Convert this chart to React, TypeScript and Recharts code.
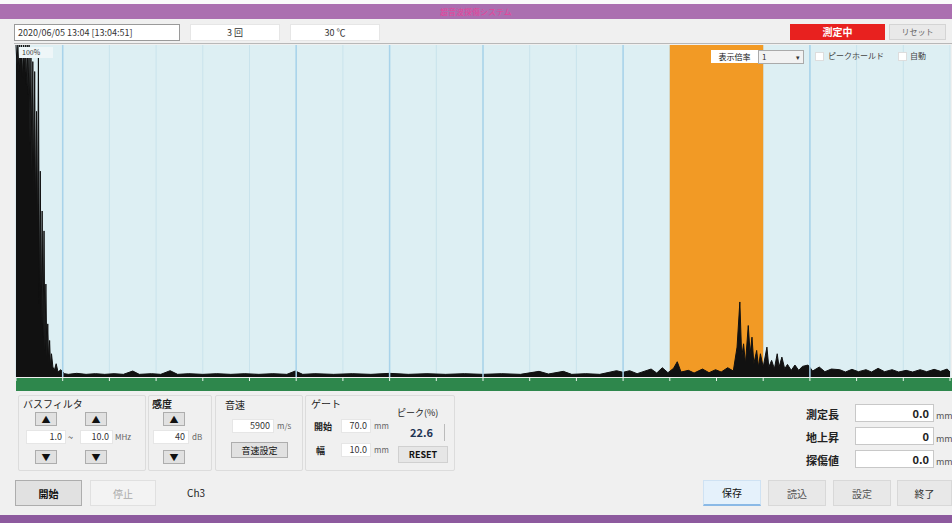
import { ComposedChart, Area, XAxis, YAxis, CartesianGrid, ReferenceArea, ReferenceLine } from 'recharts'

// A-scan: depth (mm) vs echo height (% FSH)
const DEPTH_MM = [
  0, 0.1, 0.2, 0.3, 0.4, 0.5, 0.6, 0.7, 0.8, 0.9, 1.0, 1.1, 1.2, 1.3, 1.4, 1.5, 1.6, 1.7, 1.8, 1.9,
  2.0, 2.1, 2.2, 2.3, 2.4, 2.5, 2.6, 2.7, 2.8, 2.9, 3.0, 3.1, 3.2, 3.3, 3.4, 3.5, 3.6, 3.7, 3.8, 3.95,
  4.1, 4.3, 4.5, 4.8, 5.2, 5.6, 6.5, 7.5, 8.5, 9.5, 10.5, 11.5, 12.5, 13.2, 14.5, 15.5, 16.5, 17.3,
  18.5, 20, 21.5, 23, 24.5, 26, 27.5, 29, 29.9, 30.7, 32, 34, 36, 38, 40, 42, 44, 46, 48, 50, 52, 54,
  56, 57, 58.6, 59.5, 61, 62.5, 64.3, 65, 65.7, 66.5, 68, 68.6, 69.2, 69.8, 70.4, 70.8, 71.2, 72,
  72.6, 73.5, 74.2, 74.9, 75.5, 76.2, 76.8, 77.2, 77.5, 77.7, 77.9, 78.1, 78.4, 78.6, 78.8, 79.0,
  79.3, 79.5, 79.7, 80.0, 80.4, 80.6, 80.9, 81.2, 81.5, 81.7, 82.0, 82.3, 82.6, 83.0, 83.4, 83.8,
  84.2, 84.8, 85.3, 86.0, 86.6, 87.3, 88.2, 88.8, 89.5, 90.2, 91.0, 91.6, 92.3, 93.0, 93.8, 94.5,
  95.3, 96.0, 96.8, 97.5, 98.3, 99.0, 99.7, 100,
]
const ECHO_PCT = [
  100, 94, 100, 92, 100, 95, 100, 90, 100, 93, 100, 88, 100, 85, 100, 70, 98, 62, 95, 55,
  92, 48, 80, 40, 98, 22, 62, 16, 50, 12, 44, 8, 28, 6, 16, 4, 11, 3, 7, 3,
  2, 4, 1.5, 2.2, 1, 0.8, 1.1, 0.8, 1.0, 0.8, 1.0, 0.8, 1.8, 0.8, 1.0, 0.8, 1.9, 0.8,
  1.0, 0.8, 1.0, 0.8, 1.0, 0.8, 1.0, 0.8, 1.8, 0.8, 1.0, 0.8, 1.0, 0.8, 1.1, 0.8, 1.0, 0.8, 1.0, 0.8, 1.0, 0.8,
  1.7, 0.9, 1.7, 0.8, 1.0, 0.8, 1.9, 1.4, 1.9, 1.0, 2.4, 1.2, 2.8, 1.3, 2.6, 4.6, 1.5, 2.0,
  1.2, 2.4, 1.3, 2.2, 1.5, 2.8, 1.8, 9, 22.6, 6, 10, 4, 15.5, 7, 12, 4,
  8, 3, 7, 3, 9, 3, 5, 2.5, 7, 3, 6, 2.5, 3.8, 2, 3.6, 2,
  3.2, 3.6, 1.8, 3.0, 1.6, 2.4, 2.2, 1.5, 2.3, 1.6, 2.2, 1.5, 2.6, 1.6, 2.2, 1.5,
  2.0, 1.5, 2.2, 1.6, 2.3, 1.7, 2.4, 1.5,
]
const GRID_MM = [0, 5, 10, 15, 20, 25, 30, 35, 40, 45, 50, 55, 60, 65, 70, 75, 80, 85, 90, 95, 100]
const STRONG_MM = [5, 30, 40, 50, 65, 85]
const GATE_MM: [number, number] = [70, 80]
const PEAK_PCT = 22.6

const data = DEPTH_MM.map((d, i) => ({ d, v: ECHO_PCT[i] }))

const FONT = '"Noto Sans CJK JP", "Noto Sans", sans-serif'

const box = (left: number, top: number, width: number, height: number, extra: any = {}): any => ({
  position: 'absolute', left, top, width, height, boxSizing: 'border-box', ...extra,
})

function Btn({ x, y, w, h, label, style = {} }: { x: number; y: number; w: number; h: number; label: string; style?: any }) {
  return (
    <div style={box(x, y, w, h, {
      background: '#e1e1e1', border: '1px solid #adadad', display: 'flex', alignItems: 'center',
      justifyContent: 'center', fontSize: 10, color: '#111', ...style,
    })}>{label}</div>
  )
}

function Field({ x, y, w, h, text, align = 'right', style = {} }: { x: number; y: number; w: number; h: number; text: string; align?: string; style?: any }) {
  return (
    <div style={box(x, y, w, h, {
      background: '#fff', border: '1px solid #e6e6e6', fontSize: 9, lineHeight: `${h - 2}px`,
      textAlign: align, padding: '0 3px', color: '#333', ...style,
    })}>{text}</div>
  )
}

function Txt({ x, y, text, size = 10, style = {} }: { x: number; y: number; text: string; size?: number; style?: any }) {
  return <div style={{ position: 'absolute', left: x, top: y, fontSize: size, whiteSpace: 'nowrap', color: '#222', ...style }}>{text}</div>
}

const WhiteTick = (props: any) => {
  const { x, y } = props
  return <line x1={x} x2={x} y1={y + 1} y2={y + 4} stroke="#e8f4ec" strokeWidth={1} />
}

export default function App() {
  return (
    <div style={{ position: 'absolute', left: 0, top: 0, width: 952, height: 523, overflow: 'hidden', background: '#f0f0f0', fontFamily: FONT }}>
      {/* title bar */}
      <div style={box(0, 0, 952, 4, { background: '#fafafa' })} />
      <div style={box(0, 4, 952, 15, { background: '#ab6fb0' })}>
        <div style={{ position: 'absolute', left: 440, top: 2, fontSize: 8, color: '#e6439a' }}>超音波探傷システム</div>
      </div>

      {/* toolbar */}
      <Field x={14} y={24} w={166} h={17} text="2020/06/05 13:04 [13:04:51]" align="left" style={{ border: '1px solid #9a9a9a', fontSize: 9 }} />
      <Field x={190} y={24} w={90} h={17} text="3 回" align="center" />
      <Field x={290} y={24} w={90} h={17} text="30 ℃" align="center" />
      <div style={box(790, 24, 95, 16, { background: '#e8211f', color: '#fff', fontSize: 10, fontWeight: 700, textAlign: 'center', lineHeight: '16px' })}>測定中</div>
      <div style={box(889, 24, 57, 16, { background: '#e9e9e9', border: '1px solid #d4d4d4', color: '#666', fontSize: 8, textAlign: 'center', lineHeight: '14px' })}>リセット</div>
      <div style={box(14, 43, 938, 1, { background: '#b8b8b8' })} />

      {/* green scale strip behind the x axis */}
      <div style={box(16, 378, 936, 13, { background: '#2e874c' })} />

      <div style={{ position: 'absolute', left: 15, top: 44 }}>
        <ComposedChart width={937} height={348} data={data} margin={{ top: 1, right: 2, bottom: 0, left: 1 }}>
          <CartesianGrid horizontal={false} stroke="#c9e3ec" fill="#ddeff3" fillOpacity={1} />
          <XAxis dataKey="d" type="number" domain={[0, 100]} ticks={GRID_MM} height={15}
            axisLine={false} tickLine={false} tickSize={0} tickMargin={0} tick={WhiteTick} interval={0} />
          <YAxis type="number" domain={[0, 100]} hide allowDataOverflow />
          {STRONG_MM.map((m) => (
            <ReferenceLine key={m} x={m} stroke="#a8d3ea" strokeWidth={1.5} />
          ))}
          <ReferenceArea x1={GATE_MM[0]} x2={GATE_MM[1]} fill="#f29a25" fillOpacity={1} stroke="none" />
          <Area dataKey="v" type="linear" stroke="#111" strokeWidth={1} fill="#111" fillOpacity={1}
            isAnimationActive={false} dot={false} activeDot={false} baseValue={0} />
        </ComposedChart>
      </div>

      {/* overlays in the plot */}
      <div style={box(19, 47, 34, 11, { background: '#eef6f8', fontSize: 7, color: '#333', lineHeight: '11px', paddingLeft: 3 })}>100%</div>
      <div style={box(711, 50, 47, 13, { background: '#fff', fontSize: 8, lineHeight: '13px', textAlign: 'center', color: '#111' })}>表示倍率</div>
      <div style={box(758, 50, 46, 14, { background: '#f2f2f2', border: '1px solid #aaa', fontSize: 8, lineHeight: '12px', paddingLeft: 3, color: '#333' })}>
        1<span style={{ position: 'absolute', right: 3, fontSize: 7 }}>▾</span>
      </div>
      <div style={box(815, 52, 9, 9, { background: '#fff', border: '1px solid #ddd' })} />
      <Txt x={828} y={50} size={8} text="ピークホールド" style={{ color: '#444' }} />
      <div style={box(898, 52, 9, 9, { background: '#fff', border: '1px solid #ddd' })} />
      <Txt x={910} y={50} size={8} text="自動" style={{ color: '#444' }} />

      {/* control panel */}
      <div style={box(18, 395, 128, 76, { border: '1px solid #dcdcdc', borderRadius: 2 })} />
      <Txt x={23} y={396} text="バスフィルタ" size={10} />
      <Btn x={35} y={412} w={22} h={14} label="▲" style={{ fontSize: 9 }} />
      <Btn x={85} y={412} w={22} h={14} label="▲" style={{ fontSize: 9 }} />
      <Field x={26} y={430} w={40} h={14} text="1.0" />
      <Txt x={68} y={431} size={9} text="~" />
      <Field x={80} y={430} w={33} h={14} text="10.0" />
      <Txt x={115} y={431} size={8} text="MHz" style={{ color: '#666' }} />
      <Btn x={35} y={450} w={22} h={14} label="▼" style={{ fontSize: 9 }} />
      <Btn x={85} y={450} w={22} h={14} label="▼" style={{ fontSize: 9 }} />

      <div style={box(148, 395, 64, 76, { border: '1px solid #dcdcdc', borderRadius: 2 })} />
      <Txt x={152} y={396} text="感度" size={10} style={{ fontWeight: 700 }} />
      <Btn x={163} y={412} w={22} h={14} label="▲" style={{ fontSize: 9 }} />
      <Field x={153} y={430} w={36} h={14} text="40" />
      <Txt x={192} y={431} size={8} text="dB" style={{ color: '#666' }} />
      <Btn x={163} y={450} w={22} h={14} label="▼" style={{ fontSize: 9 }} />

      <div style={box(215, 395, 88, 76, { border: '1px solid #dcdcdc', borderRadius: 2 })} />
      <Txt x={225} y={397} text="音速" size={10} />
      <Field x={232} y={419} w={42} h={14} text="5900" />
      <Txt x={277} y={420} size={8} text="m/s" style={{ color: '#666' }} />
      <Btn x={231} y={442} w={57} h={16} label="音速設定" style={{ fontSize: 9 }} />

      <div style={box(305, 395, 150, 76, { border: '1px solid #dcdcdc', borderRadius: 2 })} />
      <Txt x={311} y={396} text="ゲート" size={10} />
      <Txt x={314} y={420} text="開始" size={9} style={{ fontWeight: 700 }} />
      <Field x={341} y={419} w={30} h={14} text="70.0" />
      <Txt x={374} y={420} size={8} text="mm" style={{ color: '#666' }} />
      <Txt x={316} y={444} text="幅" size={9} style={{ fontWeight: 700 }} />
      <Field x={341} y={443} w={30} h={14} text="10.0" />
      <Txt x={374} y={444} size={8} text="mm" style={{ color: '#666' }} />
      <Txt x={397} y={406} text="ピーク(%)" size={9} />
      <div style={box(399, 424, 46, 17, { borderRight: '1px solid #bbb', fontSize: 11, fontWeight: 700, textAlign: 'center', lineHeight: '17px', color: '#1f3554' })}>{PEAK_PCT.toFixed(1)}</div>
      <Btn x={398} y={446} w={50} h={17} label="RESET" style={{ fontSize: 9, fontWeight: 700, background: '#e6e6e6', border: '1px solid #d0d0d0' }} />

      {/* readouts */}
      {[['測定長', '0.0'], ['地上昇', '0'], ['探傷値', '0.0']].map(([lab, val], i) => (
        <div key={lab}>
          <Txt x={806} y={406 + i * 23} size={11} text={lab} style={{ fontWeight: 700 }} />
          <div style={box(855, 404 + i * 23, 79, 18, { background: '#fff', border: '1px solid #c8c8c8', fontSize: 11, fontWeight: 700, textAlign: 'right', paddingRight: 4, lineHeight: '16px', color: '#222' })}>{val}</div>
          <Txt x={936} y={409 + i * 23} size={9} text="mm" style={{ color: '#555' }} />
        </div>
      ))}

      {/* bottom buttons */}
      <Btn x={15} y={480} w={67} h={26} label="開始" style={{ fontWeight: 700 }} />
      <Btn x={90} y={480} w={66} h={26} label="停止" style={{ background: '#f3f3f3', border: '1px solid #e0e0e0', color: '#aaa' }} />
      <Txt x={187} y={485} size={10} text="Ch3" />
      <Btn x={703} y={480} w={58} h={26} label="保存" style={{ background: '#e5f1fb', border: '1px solid #cfe2f3', borderBottom: '2px solid #8ab9e6' }} />
      <Btn x={768} y={480} w={58} h={26} label="読込" style={{ background: '#e8e8e8', border: '1px solid #d8d8d8', color: '#555' }} />
      <Btn x={833} y={480} w={58} h={26} label="設定" style={{ background: '#e8e8e8', border: '1px solid #d8d8d8', color: '#555' }} />
      <Btn x={897} y={480} w={55} h={26} label="終了" style={{ background: '#e8e8e8', border: '1px solid #d8d8d8', color: '#333' }} />

      <div style={box(0, 515, 952, 8, { background: '#8d5a9e' })} />
    </div>
  )
}
